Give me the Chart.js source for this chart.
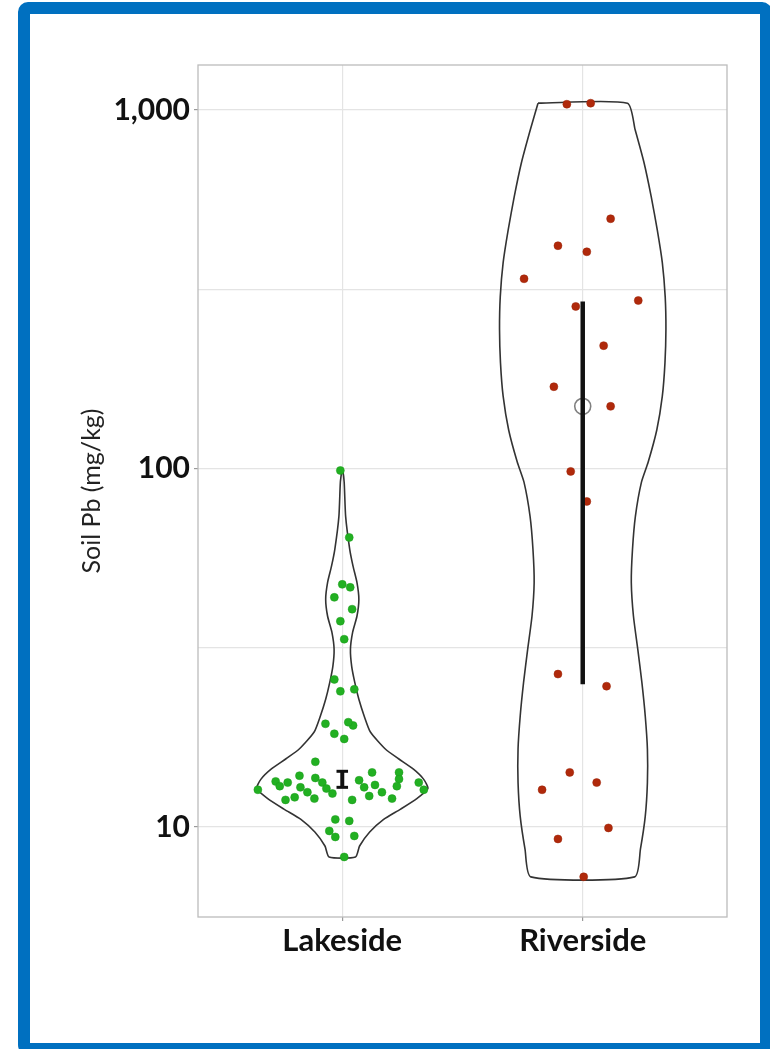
<!DOCTYPE html>
<html lang="en">
<head>
<meta charset="UTF-8">
<title>Soil Pb by site</title>
<script src="https://cdn.jsdelivr.net/npm/chart.js"></script>
<style>
  html, body { margin: 0; padding: 0; background: #fff; overflow: hidden; }
  body { width: 770px; height: 1049px; position: relative; }
  #frame { position: absolute; left: 18px; top: 2px; right: -2px; bottom: -6px;
           border: 12px solid #0070c0; border-radius: 10px; box-sizing: border-box; }
  #chart { position: absolute; left: 0; top: 0; }
</style>
</head>
<body>
<div id="frame"></div>
<canvas id="chart" width="770" height="1049"></canvas>
<script>
// categories and axis ticks
const categories = ['Lakeside', 'Riverside'];
const yMajorTicks = [10, 100, 1000];
const yMinorTicks = [31.62, 316.2];

// soil Pb samples (mg/kg) and their horizontal jitter (category units)
const lakesidePb = [98.7, 64.2, 47.5, 46.6, 43.7, 40.5, 37.5, 33.4, 25.8, 23.9, 24.2, 19.4, 19.2, 19.6,
  18.2, 17.6, 15.2, 12.7, 13.4, 13.0, 11.9, 12.1, 13.9, 12.9, 13.7, 12.0, 13.3, 12.8, 12.4, 11.9,
  13.5, 12.9, 14.2, 13.1, 12.5, 12.0, 14.2, 13.6, 13.0, 13.3, 12.7, 10.5, 10.4, 9.75, 9.38, 9.44,
  8.25, 12.5, 13.3, 12.2];
const lakesideJitter = [-0.008, 0.029, 0, 0.033, -0.033, 0.041, -0.008, 0.008, -0.033, -0.008, 0.05,
  -0.07, 0.045, 0.025, -0.033, 0.008, -0.112, -0.351, -0.277, -0.26, -0.236, -0.198, -0.178, -0.174,
  -0.112, -0.116, -0.083, -0.066, -0.041, 0.041, 0.07, 0.091, 0.124, 0.136, 0.165, 0.207, 0.236,
  0.236, 0.227, 0.318, 0.339, -0.029, 0.029, -0.054, -0.029, 0.05, 0.008, -0.145, -0.227, 0.112];

const riversidePb = [1037, 1044, 497, 418, 402, 338, 294, 283, 220, 169, 149, 98.1, 80.9, 26.7, 24.7,
  14.2, 12.7, 13.3, 9.94, 9.26, 7.26];
const riversideJitter = [-0.066, 0.033, 0.116, -0.103, 0.017, -0.244, 0.231, -0.029, 0.087, -0.12,
  0.116, -0.05, 0.017, -0.103, 0.099, -0.054, -0.169, 0.058, 0.107, -0.103, 0.004];

// violin outlines: Pb level (top to bottom) and half width (category units)
const lakesideViolinPb = [98.7, 91.4, 73.5, 59.5, 53.3, 48.1, 43.2, 38.7, 34.9, 31.3, 28.1, 25.3, 22.7,
  20.4, 18.4, 16.5, 15.5, 14.5, 13.6, 12.8, 12.0, 11.2, 10.5, 9.68, 8.85, 8.25];
const lakesideViolinHalf = [0.002, 0.008, 0.014, 0.031, 0.045, 0.061, 0.069, 0.061, 0.043, 0.034,
  0.039, 0.052, 0.069, 0.091, 0.117, 0.179, 0.234, 0.296, 0.338, 0.356, 0.31, 0.241, 0.172, 0.114,
  0.072, 0.055];

const riversideViolinPb = [1044, 880, 712, 572, 463, 375, 301, 244, 197, 159, 128, 104, 91.4, 73.5,
  59.5, 48.1, 38.7, 31.3, 25.3, 20.4, 16.5, 13.3, 10.7, 8.68, 7.26];
const riversideViolinHalf = [0.186, 0.218, 0.255, 0.285, 0.31, 0.331, 0.343, 0.346, 0.342, 0.331,
  0.308, 0.272, 0.244, 0.219, 0.207, 0.202, 0.211, 0.229, 0.246, 0.26, 0.269, 0.269, 0.26, 0.24, 0.216];

// summary intervals
const lakesideLow = 12.9, lakesideHigh = 14.3;
const riversideLow = 25.0, riversideHigh = 292, riversideMean = 149;

function jittered(pos, values, jitter) {
  return values.map((v, i) => ({ x: pos + jitter[i], y: v }));
}

function violinPath(pos, levels, half) {
  const left = levels.map((v, i) => ({ x: pos - half[i], y: v }));
  const right = levels.map((v, i) => ({ x: pos + half[i], y: v })).reverse();
  return left.concat(right, [left[0]]);
}

function outlineSet(data) {
  return {
    data: data, showLine: true, pointRadius: 0, borderColor: '#333333',
    borderWidth: 1.6, tension: 0.2, fill: false, order: 3
  };
}

function barSet(data, width) {
  return {
    data: data, showLine: true, pointRadius: 0, borderColor: '#111111',
    borderWidth: width, tension: 0, fill: false, order: 0
  };
}

const panelBorder = {
  id: 'panelBorder',
  beforeDatasetsDraw(chart) {
    const a = chart.chartArea;
    const ctx = chart.ctx;
    ctx.save();
    ctx.strokeStyle = '#bcbcbc';
    ctx.lineWidth = 1.3;
    ctx.strokeRect(a.left, a.top, a.right - a.left, a.bottom - a.top);
    ctx.restore();
  }
};

new Chart(document.getElementById('chart'), {
  type: 'scatter',
  data: {
    datasets: [
      barSet([{ x: 1, y: lakesideLow }, { x: 1, y: lakesideHigh }], 4),
      barSet([{ x: 0.976, y: lakesideHigh }, { x: 1.024, y: lakesideHigh }], 3),
      barSet([{ x: 0.976, y: lakesideLow }, { x: 1.024, y: lakesideLow }], 3),
      barSet([{ x: 2, y: riversideLow }, { x: 2, y: riversideHigh }], 4.5),
      {
        data: [{ x: 2, y: riversideMean }], pointRadius: 8, pointBackgroundColor: 'rgba(255,255,255,0)',
        pointBorderColor: '#808080', pointBorderWidth: 1.6, order: 0
      },
      {
        data: jittered(1, lakesidePb, lakesideJitter), pointRadius: 4,
        pointBackgroundColor: '#22b022', pointBorderColor: '#1a9a1a', pointBorderWidth: 0.5, order: 1
      },
      {
        data: jittered(2, riversidePb, riversideJitter), pointRadius: 4,
        pointBackgroundColor: '#b0290b', pointBorderColor: '#9a2408', pointBorderWidth: 0.5, order: 1
      },
      outlineSet(violinPath(1, lakesideViolinPb, lakesideViolinHalf)),
      outlineSet(violinPath(2, riversideViolinPb, riversideViolinHalf))
    ]
  },
  options: {
    responsive: false,
    animation: false,
    devicePixelRatio: 1,
    layout: { padding: { left: 0, right: 43, top: 65, bottom: 0 } },
    plugins: { legend: { display: false }, tooltip: { enabled: false } },
    scales: {
      x: {
        type: 'linear', min: 0.4, max: 2.6,
        afterBuildTicks: s => { s.ticks = categories.map((c, i) => ({ value: i + 1 })); },
        afterFit: s => { s.height = 132; },
        ticks: {
          callback: v => categories[v - 1], color: '#111111',
          font: { family: 'Lato', size: 31, weight: 'bold' },
          padding: 1, maxRotation: 0, autoSkip: false
        },
        grid: { color: '#e4e4e4', lineWidth: 1.2, tickLength: 4, tickColor: '#9a9a9a' },
        border: { display: false }
      },
      y: {
        type: 'logarithmic', min: 5.61, max: 1334,
        afterBuildTicks: s => {
          s.ticks = yMajorTicks.concat(yMinorTicks).sort((a, b) => a - b).map(v => ({ value: v }));
        },
        afterFit: s => { s.width = 198; },
        ticks: {
          callback: v => yMajorTicks.includes(v) ? v.toLocaleString('en-US') : '',
          font: { family: 'Lato', size: 30, weight: 'bold' },
          color: '#111111', padding: 4, autoSkip: false
        },
        grid: {
          color: '#e4e4e4', lineWidth: 1.2, tickLength: 4,
          tickColor: c => (c.tick && yMajorTicks.includes(c.tick.value)) ? '#9a9a9a' : 'rgba(0,0,0,0)'
        },
        border: { display: false },
        title: {
          display: true, text: 'Soil Pb (mg/kg)', color: '#222222',
          font: { family: 'Lato', size: 25 }, padding: { top: 77, bottom: 0 }
        }
      }
    }
  },
  plugins: [panelBorder]
});
</script>
</body>
</html>
